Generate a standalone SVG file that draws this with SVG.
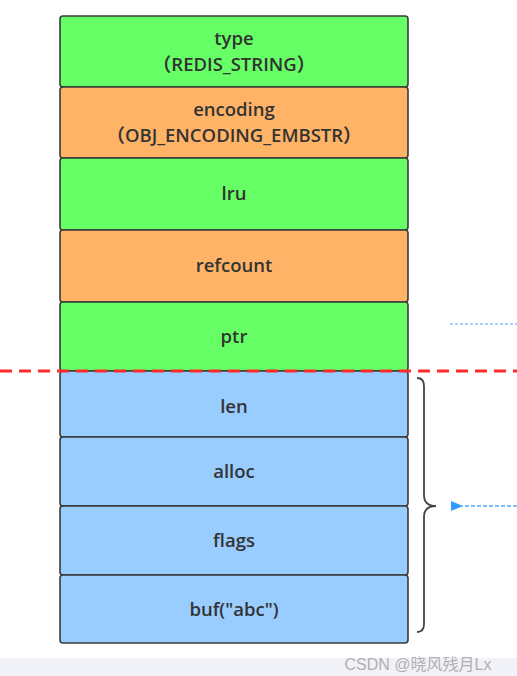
<svg xmlns="http://www.w3.org/2000/svg" width="517" height="676" viewBox="0 0 517 676">
<style>
.box{stroke:#3a3a3a;stroke-width:1.6}
.g{fill:#66ff66}
.o{fill:#ffb366}
.b{fill:#99ccff}
.t{font-family:"Open Sans","Liberation Sans","Noto Sans CJK SC",sans-serif;font-size:18.5px;font-weight:600;fill:#333;text-anchor:middle}
</style>
<defs>
<marker id="ah" viewBox="0 0 12 10" refX="1" refY="5" markerWidth="12" markerHeight="10" markerUnits="userSpaceOnUse" orient="auto">
<path d="M12,0 L0,5 L12,10 z" fill="#3399ff"/>
</marker>
</defs>
<rect x="0" y="0" width="517" height="676" fill="#fff"/>
<rect x="0" y="658" width="517" height="18" fill="#f1f2f7"/>
<g id="type"><rect class="box g" x="60" y="16" width="348" height="71" rx="3"/><text class="t" x="234" y="45">type</text><text class="t" x="234" y="71">（REDIS_STRING）</text></g>
<g id="encoding"><rect class="box o" x="60" y="87" width="348" height="71" rx="3"/><text class="t" x="234" y="116">encoding</text><text class="t" x="234" y="142">（OBJ_ENCODING_EMBSTR）</text></g>
<g id="lru"><rect class="box g" x="60" y="158" width="348" height="72" rx="3"/><text class="t" x="234" y="200">lru</text></g>
<g id="refcount"><rect class="box o" x="60" y="230" width="348" height="72" rx="3"/><text class="t" x="234" y="272">refcount</text></g>
<g id="ptr"><rect class="box g" x="60" y="302" width="348" height="69" rx="3"/><text class="t" x="234" y="343">ptr</text></g>
<g id="len"><rect class="box b" x="60" y="371" width="348" height="66" rx="3"/><text class="t" x="234" y="413">len</text></g>
<g id="alloc"><rect class="box b" x="60" y="437" width="348" height="69" rx="3"/><text class="t" x="234" y="478">alloc</text></g>
<g id="flags"><rect class="box b" x="60" y="506" width="348" height="69" rx="3"/><text class="t" x="234" y="547">flags</text></g>
<g id="buf"><rect class="box b" x="60" y="575" width="348" height="68" rx="3"/><text class="t" x="234" y="616">buf("abc")</text></g>
<g id="connectors">
<line x1="0" y1="371" x2="517" y2="371" stroke="#ff2a2a" stroke-width="3" stroke-dasharray="12,7"/>
<line x1="450" y1="324" x2="517" y2="324" stroke="#8fbfff" stroke-width="1.5" stroke-dasharray="3,2"/>
<path d="M417,378 Q424,378 424,386 L424,495 Q424,506 436,506 Q424,506 424,517 L424,624 Q424,632 417,632" fill="none" stroke="#444" stroke-width="1.8"/>
<line x1="517" y1="506" x2="462" y2="506" stroke="#5aaaff" stroke-width="1.5" stroke-dasharray="4,2" marker-end="url(#ah)"/>
</g>
<text x="418" y="670" font-family="'Liberation Sans','Noto Sans CJK SC',sans-serif" font-size="16" fill="#b0b0b0" text-anchor="middle">CSDN @晓风残月Lx</text>
</svg>
